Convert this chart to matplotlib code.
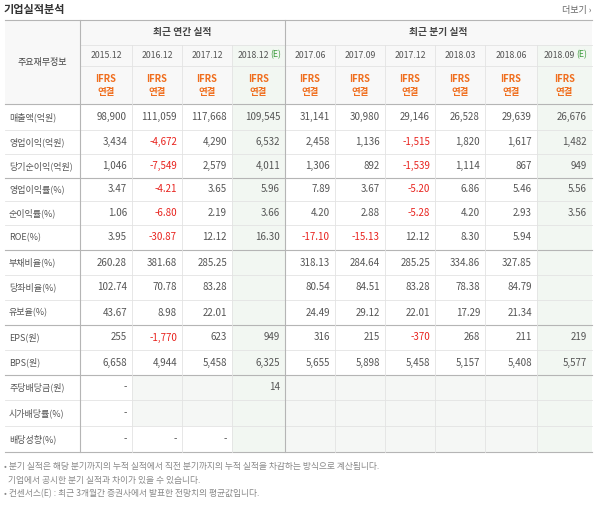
import matplotlib.pyplot as plt
from matplotlib.patches import Rectangle

plt.rcParams['font.family'] = ['Noto Sans CJK KR', 'DejaVu Sans']

annual_periods = ["2015.12", "2016.12", "2017.12", "2018.12"]
quarter_periods = ["2017.06", "2017.09", "2017.12", "2018.03", "2018.06", "2018.09"]
row_labels = ["매출액(억원)", "영업이익(억원)", "당기순이익(억원)", "영업이익률(%)", "순이익률(%)",
              "ROE(%)", "부채비율(%)", "당좌비율(%)", "유보율(%)", "EPS(원)", "BPS(원)",
              "주당배당금(원)", "시가배당률(%)", "배당성향(%)"]
values = [
    ["98,900", "111,059", "117,668", "109,545", "31,141", "30,980", "29,146", "26,528", "29,639", "26,676"],
    ["3,434", "-4,672", "4,290", "6,532", "2,458", "1,136", "-1,515", "1,820", "1,617", "1,482"],
    ["1,046", "-7,549", "2,579", "4,011", "1,306", "892", "-1,539", "1,114", "867", "949"],
    ["3.47", "-4.21", "3.65", "5.96", "7.89", "3.67", "-5.20", "6.86", "5.46", "5.56"],
    ["1.06", "-6.80", "2.19", "3.66", "4.20", "2.88", "-5.28", "4.20", "2.93", "3.56"],
    ["3.95", "-30.87", "12.12", "16.30", "-17.10", "-15.13", "12.12", "8.30", "5.94", ""],
    ["260.28", "381.68", "285.25", "", "318.13", "284.64", "285.25", "334.86", "327.85", ""],
    ["102.74", "70.78", "83.28", "", "80.54", "84.51", "83.28", "78.38", "84.79", ""],
    ["43.67", "8.98", "22.01", "", "24.49", "29.12", "22.01", "17.29", "21.34", ""],
    ["255", "-1,770", "623", "949", "316", "215", "-370", "268", "211", "219"],
    ["6,658", "4,944", "5,458", "6,325", "5,655", "5,898", "5,458", "5,157", "5,408", "5,577"],
    ["-", "", "", "14", "", "", "", "", "", ""],
    ["-", "", "", "", "", "", "", "", "", ""],
    ["-", "-", "-", "", "", "", "", "", "", ""],
]
notes = ["• 분기 실적은 해당 분기까지의 누적 실적에서 직전 분기까지의 누적 실적을 차감하는 방식으로 계산됩니다.",
         "  기업에서 공시한 분기 실적과 차이가 있을 수 있습니다.",
         "• 컨센서스(E) : 최근 3개월간 증권사에서 발표한 전망치의 평균값입니다."]

fig = plt.figure(figsize=(6, 5.05), dpi=100)
ax = fig.add_axes([0, 0, 1, 1])
ax.set_xlim(0, 600)
ax.set_ylim(505, 0)
ax.axis('off')

col_x = [5, 80, 132, 182, 232, 285, 335, 385, 435, 485, 537, 592]
row_y = [104, 130, 154, 178, 201, 225, 250, 275, 300, 325, 350, 375, 400, 426, 452]
top, y_date, y_ifrs, y_hdr = 20, 45, 66, 104
est_cols = {3, 9}
grey, line_c, txt = "#f5f7f5", "#e3e3e3", "#555555"

ax.text(4, 9, "기업실적분석", fontsize=8, fontweight='bold', color="#333", va='center')
ax.text(592, 10, "더보기 ›", fontsize=6.5, color="#666", va='center', ha='right')

# header background
ax.add_patch(Rectangle((col_x[0], top), col_x[-1] - col_x[0], y_hdr - top, color="#f8f8f8", lw=0))
for c in est_cols:
    ax.add_patch(Rectangle((col_x[c + 1], y_date), col_x[c + 2] - col_x[c + 1], row_y[-1] - y_date,
                           color="#f2f7f2", lw=0))
# empty cells
for r, row in enumerate(values):
    for c, v in enumerate(row):
        if v == "" and c not in est_cols:
            ax.add_patch(Rectangle((col_x[c + 1], row_y[r]), col_x[c + 2] - col_x[c + 1],
                                   row_y[r + 1] - row_y[r], color=grey, lw=0))

# grid lines
for y in [y_date, y_ifrs] + row_y[1:-1]:
    x0 = col_x[1] if y in (y_date, y_ifrs) else col_x[0]
    ax.plot([x0, col_x[-1]], [y, y], color=line_c, lw=0.6)
for y in [top, y_hdr, row_y[3], row_y[6], row_y[9], row_y[11], row_y[-1]]:
    ax.plot([col_x[0], col_x[-1]], [y, y], color="#b5b5b5", lw=0.8)
for i, x in enumerate(col_x):
    if i in (0, 11):
        continue
    if i in (1, 5):
        ax.plot([x, x], [top, row_y[-1]], color="#b5b5b5", lw=0.8)
    else:
        ax.plot([x, x], [y_date, row_y[-1]], color=line_c, lw=0.6)

ax.text((col_x[1] + col_x[5]) / 2, 32, "최근 연간 실적", fontsize=7, fontweight='bold', color="#444", ha='center', va='center')
ax.text((col_x[5] + col_x[11]) / 2, 32, "최근 분기 실적", fontsize=7, fontweight='bold', color="#444", ha='center', va='center')
ax.text((col_x[0] + col_x[1]) / 2, 62, "주요재무정보", fontsize=6.5, color="#444", ha='center', va='center')

for c, p in enumerate(annual_periods + quarter_periods):
    xc = (col_x[c + 1] + col_x[c + 2]) / 2
    if c in est_cols:
        ax.text(xc - 5, 55, p, fontsize=6.3, color=txt, ha='center', va='center')
        ax.text(xc + 17, 55, "(E)", fontsize=6.3, color="#3a9a3a", ha='center', va='center')
    else:
        ax.text(xc, 55, p, fontsize=6.3, color=txt, ha='center', va='center')
    ax.text(xc, 79, "IFRS", fontsize=6.8, color="#f06e1e", fontweight='bold', ha='center', va='center')
    ax.text(xc, 92, "연결", fontsize=6.8, color="#f06e1e", fontweight='bold', ha='center', va='center')

for r, label in enumerate(row_labels):
    yc = (row_y[r] + row_y[r + 1]) / 2
    ax.text(9, yc, label, fontsize=6.5, color=txt, va='center')
    for c, v in enumerate(values[r]):
        if v:
            color = "#e8231e" if v.startswith("-") and len(v) > 1 else txt
            ax.text(col_x[c + 2] - 5, yc, v, fontsize=7, color=color, ha='right', va='center')

for i, n in enumerate(notes):
    ax.text(4, 466 + i * 14, n, fontsize=6.3, color="#888", va='center')

fig.savefig("out.png", dpi=100)
